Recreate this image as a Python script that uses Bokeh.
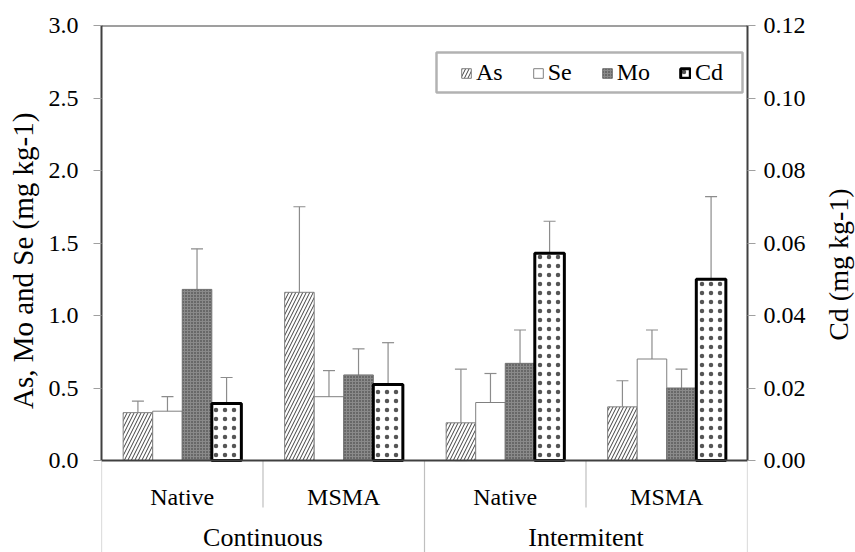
import math
from bokeh.plotting import figure
from bokeh.layouts import row
from bokeh.models import (FactorRange, Range1d, LinearAxis, FixedTicker, NumeralTickFormatter,
                          ColumnDataSource, Whisker, TeeHead, Legend, Span, BoxAnnotation)
from bokeh.transform import dodge
from bokeh.core.properties import value
from bokeh.embed import file_html
from bokeh.resources import INLINE

# ---------------- data ----------------
groups = ["Continuous", "Continuous", "Intermitent", "Intermitent"]
treatments = ["Native", "MSMA", "Native", "MSMA"]
as_vals = [0.33, 1.16, 0.26, 0.37]
as_err = [0.08, 0.59, 0.37, 0.18]
se_vals = [0.34, 0.44, 0.40, 0.70]
se_err = [0.10, 0.18, 0.20, 0.20]
mo_vals = [1.18, 0.59, 0.67, 0.50]
mo_err = [0.28, 0.18, 0.23, 0.13]
cd_vals = [0.0157, 0.0210, 0.0572, 0.0500]
cd_err = [0.0072, 0.0115, 0.0088, 0.0228]
left_ticks = [0.0, 0.5, 1.0, 1.5, 2.0, 2.5, 3.0]
right_ticks = [0.00, 0.02, 0.04, 0.06, 0.08, 0.10, 0.12]
series_names = ["As", "Se", "Mo", "Cd"]
left_title = "As, Mo and Se (mg kg-1)"
right_title = "Cd (mg kg-1)"

FONT = "'Liberation Serif', serif"
factors = list(zip(groups, treatments))

def lo(v, e):
    return [max(a - b, 0.0) for a, b in zip(v, e)]

def hi(v, e):
    return [a + b for a, b in zip(v, e)]

src = ColumnDataSource(dict(
    cat=factors,
    as_v=as_vals, as_lo=lo(as_vals, as_err), as_hi=hi(as_vals, as_err),
    se_v=se_vals, se_lo=lo(se_vals, se_err), se_hi=hi(se_vals, se_err),
    mo_v=mo_vals, mo_lo=lo(mo_vals, mo_err), mo_hi=hi(mo_vals, mo_err),
    cd_v=cd_vals, cd_lo=lo(cd_vals, cd_err), cd_hi=hi(cd_vals, cd_err),
))

Y_TOP = left_ticks[-1]
CD_TOP = right_ticks[-1]
ratio = CD_TOP / Y_TOP

# page geometry (pixels)
PAGE_W, PAGE_H = 855, 552
LT_W, RT_W = 40, 36                 # side strips holding the axis titles
FRAME_L, FRAME_R, FRAME_T, FRAME_B = 101, 747, 25, 460
px_per_unit = (FRAME_B - FRAME_T) / Y_TOP
y_bottom = -(PAGE_H - FRAME_B) / px_per_unit
short_y = -0.324
sub_label_y = -0.255
grp_label_y = -0.533

x_range = FactorRange(*factors, group_padding=0, factor_padding=0, range_padding=0)
p = figure(width=PAGE_W - LT_W - RT_W, height=PAGE_H, x_range=x_range, y_range=Range1d(y_bottom, Y_TOP),
           output_backend="svg", toolbar_location=None,
           x_axis_location=None, y_axis_location=None,
           min_border_left=FRAME_L - LT_W, min_border_right=PAGE_W - RT_W - FRAME_R,
           min_border_top=FRAME_T, min_border_bottom=0)
p.extra_y_ranges = {"cd": Range1d(y_bottom * ratio, CD_TOP)}
p.outline_line_color = None
p.grid.grid_line_color = None
p.background_fill_color = "white"
p.border_fill_color = "white"

# ---------------- axes ----------------
def style_axis(ax, standoff):
    ax.axis_line_color = "#404040"
    ax.axis_line_width = 2
    ax.major_tick_line_color = "#a0a0a0"
    ax.major_tick_out = 8
    ax.major_tick_in = 0
    ax.minor_tick_line_color = None
    ax.major_label_text_font = FONT
    ax.major_label_text_font_size = "24px"
    ax.major_label_text_font_style = "normal"
    ax.major_label_text_color = "black"
    ax.major_label_standoff = standoff

yl = LinearAxis(ticker=FixedTicker(ticks=left_ticks),
                formatter=NumeralTickFormatter(format="0.0"), bounds=(0, Y_TOP))
style_axis(yl, 15)
p.add_layout(yl, "left")

yr = LinearAxis(y_range_name="cd", ticker=FixedTicker(ticks=right_ticks),
                formatter=NumeralTickFormatter(format="0.00"), bounds=(0, CD_TOP))
style_axis(yr, 8)
p.add_layout(yr, "right")

# frame lines at 0 and top
p.add_layout(Span(location=0, dimension="width", line_color="#404040", line_width=2))
p.add_layout(Span(location=Y_TOP, dimension="width", line_color="#404040", line_width=2))

# ---------------- category separators & labels ----------------
sep_x, sep_y1 = [], []
for i, (g, t) in enumerate(factors):
    first = i == 0 or groups[i - 1] != g
    sep_x.append((g, t, -0.5))
    sep_y1.append(y_bottom if first else short_y)
sep_x.append((groups[-1], treatments[-1], 0.5))
sep_y1.append(y_bottom)
p.segment(x0="x", y0=0, x1="x", y1="y1", source=ColumnDataSource(dict(x=sep_x, y1=sep_y1)),
          line_color="#bfbfbf", line_width=1.2)

p.text(x=factors, y=[sub_label_y] * len(factors), text=treatments, text_font=value(FONT),
       text_font_size="24px", text_align="center", text_baseline="middle", text_color="black")
uniq_groups = list(dict.fromkeys(groups))
p.text(x=uniq_groups, y=[grp_label_y] * len(uniq_groups), text=uniq_groups, text_font=value(FONT),
       text_font_size="26px", text_align="center", text_baseline="middle", text_color="black")

# ---------------- bars ----------------
w = 0.183
offs = [-1.5 * w, -0.5 * w, 0.5 * w, 1.5 * w]

r_as = p.vbar(x=dodge("cat", offs[0], range=x_range), top="as_v", bottom=0, width=w, source=src,
              fill_color="white", line_color="#808080", line_width=1,
              hatch_pattern="/", hatch_color="#404040", hatch_scale=7, hatch_weight=1)
r_se = p.vbar(x=dodge("cat", offs[1], range=x_range), top="se_v", bottom=0, width=w, source=src,
              fill_color="white", line_color="#808080", line_width=1)
r_mo = p.vbar(x=dodge("cat", offs[2], range=x_range), top="mo_v", bottom=0, width=w, source=src,
              fill_color="#8a8a8a", line_color="#707070", line_width=1,
              hatch_pattern=".", hatch_color="#333333", hatch_scale=3, hatch_weight=2)
r_cd = p.vbar(x=dodge("cat", offs[3], range=x_range), top="cd_v", bottom=0, width=w, source=src,
              y_range_name="cd", fill_color="white", line_color="black", line_width=3,
              hatch_pattern=".", hatch_color="#555555", hatch_scale=9, hatch_weight=1)

# ---------------- error bars ----------------
ERR = "#8c8c8c"
for key, off, rng in [("as", offs[0], "default"), ("se", offs[1], "default"),
                      ("mo", offs[2], "default"), ("cd", offs[3], "cd")]:
    wk = Whisker(source=src, base=dodge("cat", off, range=x_range), upper=key + "_hi", lower=key + "_lo",
                 line_color=ERR, line_width=1.2,
                 upper_head=TeeHead(size=12, line_color=ERR, line_width=1.2),
                 lower_head=TeeHead(size=12, line_color=ERR, line_width=1.2))
    if rng != "default":
        wk.y_range_name = rng
    p.add_layout(wk)

# ---------------- legend ----------------
box = BoxAnnotation(left=436 - FRAME_L, right=742 - FRAME_L, left_units="screen", right_units="screen",
                    top=(FRAME_B - 52) / px_per_unit, bottom=(FRAME_B - 92) / px_per_unit,
                    fill_color=None, fill_alpha=0, line_color="black", line_width=2.5)
p.add_layout(box)

legend = Legend(items=[(n, [r]) for n, r in zip(series_names, [r_as, r_se, r_mo, r_cd])],
                orientation="horizontal", location=(460 - FRAME_L, PAGE_H - 86),
                padding=0, spacing=29, margin=0,
                glyph_width=12, glyph_height=12, label_standoff=4,
                label_text_font=FONT, label_text_font_size="24px", label_text_color="black",
                border_line_color=None, background_fill_alpha=0)
p.add_layout(legend)

# ---------------- axis titles in side strips ----------------
def title_strip(width, cx, cy, text, size):
    f = figure(width=width, height=PAGE_H, x_range=Range1d(0, width), y_range=Range1d(PAGE_H, 0),
               output_backend="svg", toolbar_location=None,
               x_axis_location=None, y_axis_location=None, min_border=0)
    f.outline_line_color = None
    f.grid.grid_line_color = None
    f.border_fill_color = "white"
    f.background_fill_color = "white"
    f.text(x=[cx], y=[cy], text=[text], angle=math.pi / 2,
           text_font=value(FONT), text_font_size=size, text_color="black",
           text_align="center", text_baseline="middle")
    return f

mid_y = (FRAME_T + FRAME_B) / 2
lt = title_strip(LT_W, 22, mid_y + 4, left_title, "29px")
rt = title_strip(RT_W, 838 - (PAGE_W - RT_W), mid_y + 8, right_title, "28px")

layout = row(lt, p, rt, spacing=0)
open("out.html", "w").write(file_html(layout, INLINE))
